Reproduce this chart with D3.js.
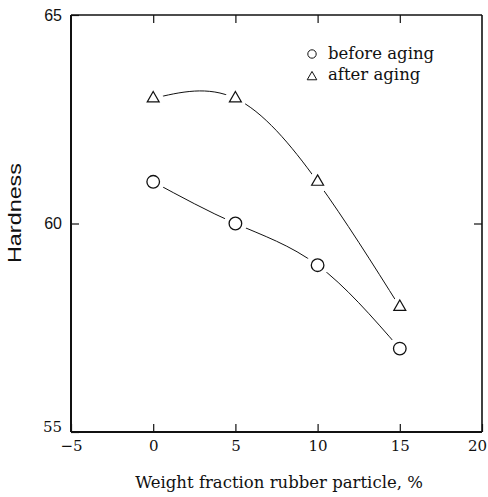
<!DOCTYPE html>
<html>
<head>
<meta charset="utf-8">
<script src="https://cdn.jsdelivr.net/npm/d3@7"></script>
<style>
  html, body { margin: 0; padding: 0; background: #fff; }
  svg { display: block; }
</style>
</head>
<body>
<svg id="chart" width="488" height="497"></svg>
<script>
// ---- data ----
const weightFraction = [0, 5, 10, 15];
const beforeAging = [61, 60, 59, 57];
const afterAging = [63, 63, 61, 58];
const xTicks = [-5, 0, 5, 10, 15, 20];
const yTicks = [55, 60, 65];
const seriesNames = ["before aging", "after aging"];
const xTitle = "Weight fraction rubber particle, %";
const yTitle = "Hardness";

// ---- layout ----
const svg = d3.select("#chart");
const margin = {left: 71, top: 15, right: 6, bottom: 65};
const W = 488, H = 497;
const iw = W - margin.left - margin.right;
const ih = H - margin.top - margin.bottom;
const serif = "'DejaVu Serif', serif";
const sans = "'Liberation Sans', Arial, sans-serif";

const x = d3.scaleLinear().domain([-5, 20]).range([0, iw]);
const y = d3.scaleLinear().domain([55, 65]).range([ih, 0]);

const g = svg.append("g").attr("transform", `translate(${margin.left},${margin.top})`);

// series lines (drawn first, markers with white halo go on top)
const line = d3.line()
  .x((d, i) => x(weightFraction[i]))
  .y(d => y(d))
  .curve(d3.curveNatural);

[beforeAging, afterAging].forEach(vals => {
  g.append("path").datum(vals)
    .attr("d", line)
    .attr("fill", "none")
    .attr("stroke", "#111")
    .attr("stroke-width", 1);
});

// halos
const pts = (vals) => vals.map((v, i) => ({x: weightFraction[i], y: v}));
g.selectAll(".haloB").data(pts(beforeAging)).enter().append("circle")
  .attr("cx", d => x(d.x)).attr("cy", d => y(d.y)).attr("r", 11.5).attr("fill", "#fff");
g.selectAll(".haloA").data(pts(afterAging)).enter().append("circle")
  .attr("cx", d => x(d.x)).attr("cy", d => y(d.y) + 1).attr("r", 10.5).attr("fill", "#fff");

// markers
g.selectAll(".mB").data(pts(beforeAging)).enter().append("circle")
  .attr("cx", d => x(d.x)).attr("cy", d => y(d.y)).attr("r", 6.3)
  .attr("fill", "#fff").attr("stroke", "#111").attr("stroke-width", 1.3);

const tri = d3.symbol().type(d3.symbolTriangle).size(62);
g.selectAll(".mA").data(pts(afterAging)).enter().append("path")
  .attr("d", tri)
  .attr("transform", d => `translate(${x(d.x)},${y(d.y)})`)
  .attr("fill", "#fff").attr("stroke", "#111").attr("stroke-width", 1.2);

// ---- axes ----
const xAxis = g.append("g").attr("transform", `translate(0,${ih})`)
  .call(d3.axisBottom(x).tickValues(xTicks).tickSize(-8).tickPadding(8)
        .tickFormat(d => d < 0 ? "\u2212" + Math.abs(d) : d));
xAxis.select(".domain").remove();
xAxis.selectAll(".tick line").attr("stroke", "#111").attr("stroke-width", 1.2);
xAxis.selectAll("text").attr("font-family", serif).attr("font-size", 15).attr("fill", "#111")
  .attr("dx", d => d === 20 ? -5 : 0);

const xTop = g.append("g")
  .call(d3.axisTop(x).tickValues(xTicks.slice(1, -1)).tickSize(-8).tickFormat(""));
xTop.select(".domain").remove();
xTop.selectAll(".tick line").attr("stroke", "#111").attr("stroke-width", 1.2);

const yAxis = g.append("g")
  .call(d3.axisLeft(y).tickValues(yTicks).tickSize(-8).tickPadding(9));
yAxis.select(".domain").remove();
yAxis.selectAll(".tick line").attr("stroke", "#111").attr("stroke-width", 1.2);
yAxis.selectAll("text")
  .attr("font-family", d => d === 55 ? serif : sans)
  .attr("font-size", d => d === 55 ? 15 : 16)
  .attr("fill", "#111")
  .attr("dy", d => d === 55 ? "-0.05em" : "0.34em");

const yRight = g.append("g").attr("transform", `translate(${iw},0)`)
  .call(d3.axisRight(y).tickValues([60]).tickSize(-8).tickFormat(""));
yRight.select(".domain").remove();
yRight.selectAll(".tick line").attr("stroke", "#111").attr("stroke-width", 1.2);

// frame
g.append("line").attr("x1", 0).attr("x2", 0).attr("y1", 0).attr("y2", ih)
  .attr("stroke", "#111").attr("stroke-width", 2);
g.append("line").attr("x1", 0).attr("x2", iw).attr("y1", ih).attr("y2", ih)
  .attr("stroke", "#111").attr("stroke-width", 2);
g.append("line").attr("x1", 0).attr("x2", iw).attr("y1", 0).attr("y2", 0)
  .attr("stroke", "#111").attr("stroke-width", 1.6);
g.append("line").attr("x1", iw).attr("x2", iw).attr("y1", 0).attr("y2", ih)
  .attr("stroke", "#111").attr("stroke-width", 1.6);

// ---- legend ----
const leg = g.append("g");
leg.append("circle").attr("cx", 241).attr("cy", 39).attr("r", 4.2)
  .attr("fill", "none").attr("stroke", "#111").attr("stroke-width", 1);
leg.append("path").attr("d", d3.symbol().type(d3.symbolTriangle).size(40))
  .attr("transform", "translate(241,62)")
  .attr("fill", "none").attr("stroke", "#111").attr("stroke-width", 1);
leg.selectAll("text.lg").data(seriesNames).enter().append("text")
  .attr("x", 257).attr("y", (d, i) => 44 + i * 21)
  .attr("font-family", serif).attr("font-size", 16.5).attr("fill", "#111")
  .text(d => d);

// ---- titles ----
svg.append("text").attr("x", 279).attr("y", 488)
  .attr("text-anchor", "middle").attr("font-family", serif).attr("font-size", 16.5)
  .attr("fill", "#111").text(xTitle);

svg.append("text").attr("transform", "translate(21,213) rotate(-90)")
  .attr("text-anchor", "middle").attr("font-family", sans).attr("font-size", 18)
  .attr("textLength", 100).attr("lengthAdjust", "spacingAndGlyphs")
  .attr("fill", "#111").text(yTitle);
</script>
</body>
</html>
